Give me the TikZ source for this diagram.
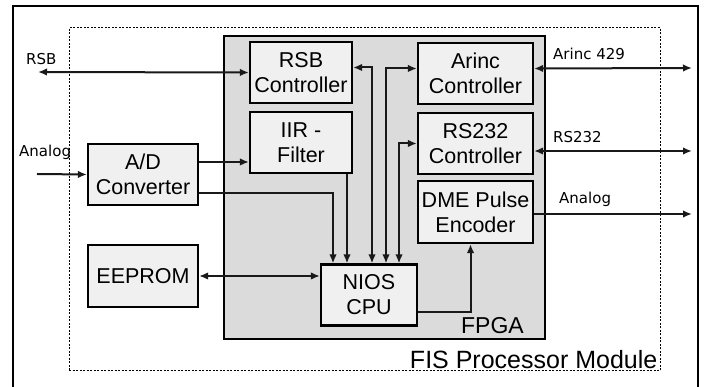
\documentclass[tikz,border=0pt]{standalone}
\usepackage{fontspec}
\setmainfont{Liberation Sans}
\newfontfamily\labfont{DejaVu Sans}
\usetikzlibrary{arrows.meta,positioning}

\begin{document}
\begin{tikzpicture}[x=1pt,y=-1pt,>={Latex[length=9pt,width=7.5pt]},
 blk/.style={draw,line width=2.2pt,fill=gray!12,inner sep=0pt,align=center,minimum width=102pt,minimum height=61pt,font=\fontsize{21.5}{25}\selectfont},
 sig/.style={line width=2pt,black!90},
 lab/.style={font=\labfont\fontsize{15}{17}\selectfont,inner sep=0pt}]
\useasboundingbox (0,0) rectangle (705,387);
\draw[line width=1.5pt] (13,400) |- (698,6) -- (698,400);
\node[draw,dash pattern=on 2pt off 1.5pt,line width=1pt,minimum width=591pt,minimum height=343pt] (mod) at (364.5,199.5) {};
\node[anchor=south east,inner sep=3pt,font=\fontsize{25}{28}\selectfont] (modlab) at (mod.south east) {FIS Processor Module};
\node[draw,line width=2pt,fill=gray!28,minimum width=321pt,minimum height=303pt] (fpga) at (384.5,187.5) {};
\node[anchor=south east,inner sep=0pt,font=\fontsize{23}{26}\selectfont] (fpgalab) at ([xshift=-22pt,yshift=6pt]fpga.south east) {FPGA};
\node[blk] (rsb) at (301,72.5) {RSB\\Controller};
\node[blk] (iir) at (301,142.5) {IIR -\\Filter};
\node[blk,minimum width=110pt] (adc) at (143,174.5) {A/D\\Converter};
\node[blk,minimum width=110pt,minimum height=62pt] (eeprom) at (143,276) {EEPROM};
\node[blk,minimum width=96pt] (cpu) at (369,295) {NIOS\\CPU};
\node[blk,minimum width=115pt] (arinc) at (475.5,73.5) {Arinc\\Controller};
\node[blk,minimum width=115pt] (rs232) at (475.5,143.5) {RS232\\Controller};
\node[blk,minimum width=115pt,minimum height=62pt] (dme) at (475.5,212) {DME Pulse\\Encoder};
\coordinate (rsbin) at (38,72);
\coordinate (anin) at (37,174);
\coordinate (arincout) at (692,68);
\coordinate (rsout) at (692,151);
\coordinate (anout) at (692,214);
\node[lab,anchor=south west] (rsblab) at (26,65) {RSB};
\node[lab,anchor=south west] (aninlab) at (19,160) {Analog};
\node[lab,anchor=south west] (arinclab) at (553,60) {Arinc 429};
\node[lab,anchor=south west] (rslab) at (553,143) {RS232};
\node[lab,anchor=south west] (anoutlab) at (559,207) {Analog};
\draw[sig,<->] (rsbin) -- (rsb.west);
\draw[sig,->] (anin) -- (adc.west);
\draw[sig,->] ([yshift=12.5pt]adc.east) -- (iir.west |- 0,162);
\draw[sig,->] ([yshift=-18.5pt]adc.east) -| ([xshift=-36pt]cpu.north);
\draw[sig,->] ([xshift=-22pt]cpu.north |- iir.south) -- ([xshift=-22pt]cpu.north);
\draw[sig,<->] ([yshift=5pt]rsb.east) -| ([xshift=3pt]cpu.north);
\draw[sig,<->] ([yshift=5pt]arinc.west) -| ([xshift=17pt]cpu.north);
\draw[sig,<->] (rs232.west) -| ([xshift=30pt]cpu.north);
\draw[sig,->] ([yshift=-17pt]cpu.east) -| ([xshift=-5pt]dme.south);
\draw[sig,<->] (eeprom.east) -- (cpu.west |- eeprom.east);
\draw[sig,<->] ([yshift=5pt]arinc.east) -- (arincout);
\draw[sig,<->] (rs232.east |- rsout) -- (rsout);
\draw[sig,->] (dme.east |- anout) -- (anout);
\end{tikzpicture}
\end{document}
